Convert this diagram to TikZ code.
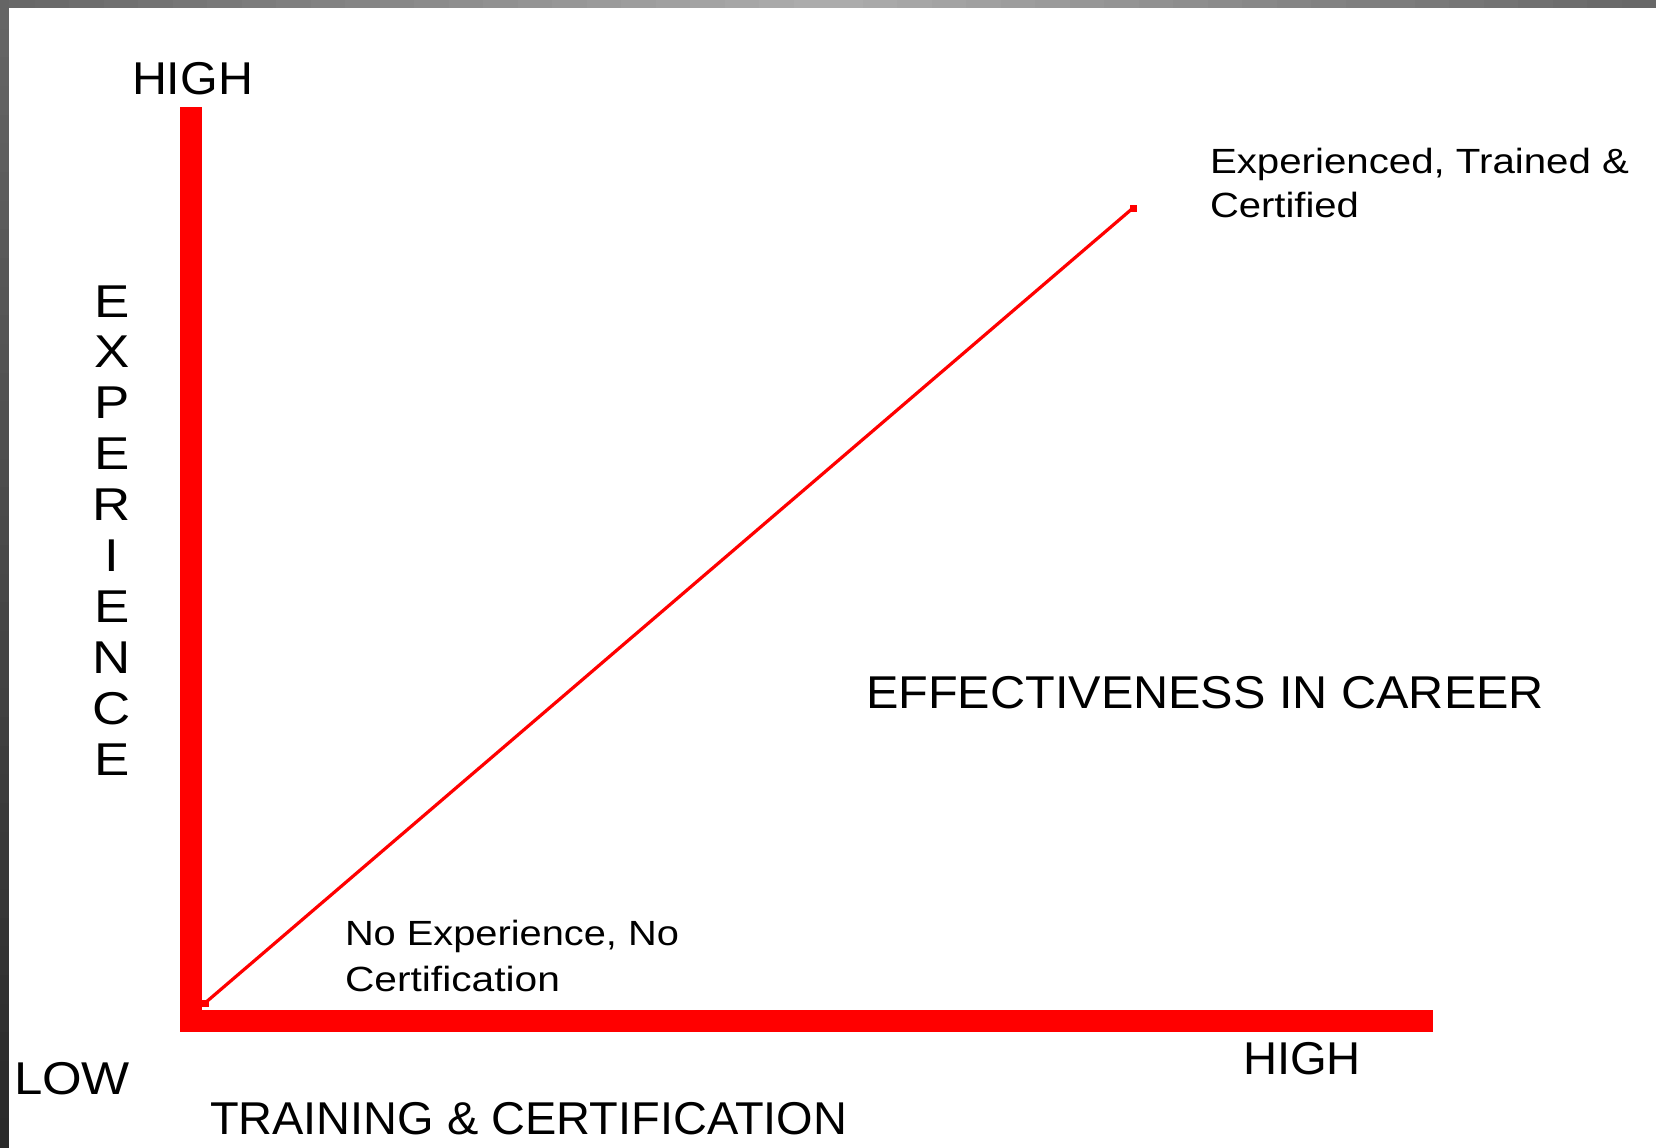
\documentclass[tikz,border=0pt]{standalone}
\usepackage{fontspec}
\usepackage{graphicx}
\setmainfont{Liberation Sans}
\newdimen\pxlen \pxlen=0.5pt
\newcommand\fitw[2]{\resizebox{#1\pxlen}{\height}{#2}}
\definecolor{axisred}{RGB}{255,0,0}
\tikzset{
  big/.style={inner sep=0pt, outer sep=0pt, text=black, font=\fontsize{23pt}{27pt}\selectfont},
  small/.style={inner sep=0pt, outer sep=0pt, text=black, font=\fontsize{17.5pt}{21pt}\selectfont},
  axisline/.style={draw=axisred, line width=11pt, line join=miter, line cap=butt},
  trendline/.style={draw=axisred, line width=1.6pt, line cap=rect},
  enddot/.style={fill=axisred, inner sep=0pt, minimum size=3.5pt, draw=none, rectangle}
}
\begin{document}
\begin{tikzpicture}[x=0.5pt, y=-0.5pt]
\useasboundingbox (0,0) rectangle (1656,1147);
\fill[white] (0,0) rectangle (1656,1147);
% frame: top strip, light in the middle, darker at both ends
\foreach \i in {0,...,47} {
  \pgfmathsetmacro{\t}{(\i+0.5)/48}
  \pgfmathsetmacro{\g}{0.40+0.28*(1-abs(2*\t-1))}
  \definecolor{stripcol}{gray}{\g}
  \fill[stripcol] ({\i*34.5},0) rectangle ({(\i+1)*34.5+0.6},8);
}
% frame: left strip, darker towards the bottom
\foreach \i in {0,...,39} {
  \pgfmathsetmacro{\t}{(\i+0.5)/40}
  \pgfmathsetmacro{\g}{0.40-0.24*\t}
  \definecolor{stripcol}{gray}{\g}
  \fill[stripcol] (0,{\i*28.675}) rectangle (9,{(\i+1)*28.675+0.6});
}

% axes
\coordinate (ytop) at (191,107);
\coordinate (origin) at (191,1020.5);
\coordinate (xend) at (1433,1020.5);
\draw[axisline] (ytop) -- (origin) -- (xend);

% trend line
\node[enddot] (tstart) at (205,1003) {};
\node[enddot] (tend) at (1133,208) {};
\draw[trendline] (tstart.center) -- (tend.center);

% labels
\node[big, anchor=base west] (hightop) at (132,94) {\fitw{121}{HIGH}};
\node[big, anchor=base west] (highbot) at (1243,1074) {\fitw{118}{HIGH}};
\node[big, anchor=base west] (low) at (14,1094) {\fitw{116}{LOW}};
\node[big, anchor=base west] (xlabel) at (210,1134) {\fitw{637}{TRAINING \& CERTIFICATION}};
\node[big, anchor=base west] (effect) at (866,708) {\fitw{678}{EFFECTIVENESS IN CAREER}};

\node[small, anchor=base west] (hi1) at (1210,173) {\fitw{419}{Experienced, Trained \&}};
\node[small, anchor=base west] (hi2) at (1210,217) {\fitw{149}{Certified}};
\node[small, anchor=base west] (lo1) at (345,945) {\fitw{334}{No Experience, No}};
\node[small, anchor=base west] (lo2) at (345,991) {\fitw{215}{Certification}};

% vertical axis label
\foreach \L [count=\i from 0] in {E,X,P,E,R,I,E,N,C,E}
  \node[big, anchor=base] (exp\i) at ({112},{317+50.9*\i}) {\scalebox{1.15}[1]{\L}};
\end{tikzpicture}
\end{document}
